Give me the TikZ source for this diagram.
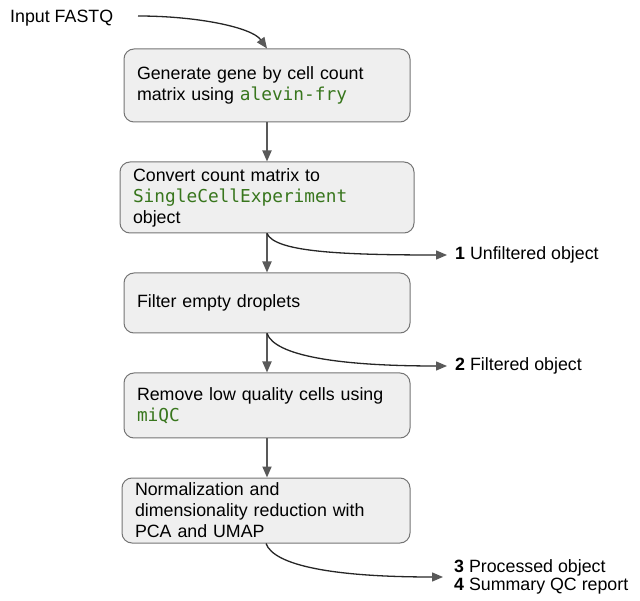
\documentclass[tikz,border=0pt]{standalone}
\usepackage{fontspec}
\setmainfont{Liberation Sans}
\setmonofont{DejaVu Sans Mono}
\usetikzlibrary{arrows.meta}
\definecolor{codegreen}{HTML}{38761D}
\definecolor{boxfill}{HTML}{EFEFEF}
\definecolor{boxline}{HTML}{757575}
\definecolor{arrowgray}{HTML}{595959}
\newcommand{\pkgname}[1]{{\ttfamily\color{codegreen}#1}}
\begin{document}
\begin{tikzpicture}[x=1pt, y=1pt, font=\fontsize{17.8}{21}\selectfont,
    stepbox/.style={draw=boxline, fill=boxfill, line width=1pt, rounded corners=10pt, align=left, inner xsep=13pt, inner ysep=0pt},
    flow/.style={arrowgray, line width=1.8pt, -{Triangle[length=11pt,width=9pt]}},
    branch/.style={black!85, line width=1.3pt, -{Triangle[length=11pt,width=9pt,color=arrowgray]}},
    outlabel/.style={anchor=west, align=left, inner xsep=8pt, inner ysep=0pt, font=\fontsize{17.8}{18}\selectfont}]
    \useasboundingbox (0,0) rectangle (640,-601);

    \node[anchor=base west, inner sep=0pt] (fastq) at (10,-23) {Input FASTQ};
    \coordinate (fastqout) at (138,-16);

    \node[stepbox, text width=260pt, minimum height=73pt] (gen) at (267,-85.5) {Generate gene by cell count\\matrix using \pkgname{alevin-fry}};
    \node[stepbox, text width=268pt, minimum height=71pt] (conv) at (267,-197.5) {Convert count matrix to\\\pkgname{SingleCellExperiment}\\object};
    \node[stepbox, text width=260pt, minimum height=60pt] (filt) at (267,-303) {Filter empty droplets};
    \node[stepbox, text width=260pt, minimum height=65pt] (miqc) at (267,-405.5) {Remove low quality cells using\\\pkgname{miQC}};
    \node[stepbox, text width=262pt, minimum height=65pt] (norm) at (266,-510.5) {Normalization and\\dimensionality reduction with\\PCA and UMAP};

    \node[outlabel] (unfilt) at (447,-255) {\textbf{1} Unfiltered object};
    \node[outlabel] (filtobj) at (447,-366) {\textbf{2} Filtered object};
    \node[outlabel, inner xsep=11pt] (report) at (443,-577) {\textbf{3} Processed object\\\textbf{4} Summary QC report};

    % main flow
    \draw[branch] (fastqout) .. controls +(60,0) and +(-15,21) .. (gen.north);
    \draw[flow] (gen) -- (conv);
    \draw[flow] (conv) -- (filt);
    \draw[flow] (filt) -- (miqc);
    \draw[flow] (miqc.south) -- (miqc.south |- norm.north);

    % outputs
    \draw[branch] (conv.south) .. controls +(8,-18) and +(-110,0) .. (unfilt.west);
    \draw[branch] (filt.south) .. controls +(8,-22) and +(-110,0) .. (filtobj.west);
    \draw[branch] (norm.south) .. controls +(8,-22) and +(-110,0) .. (report.west);
\end{tikzpicture}
\end{document}
